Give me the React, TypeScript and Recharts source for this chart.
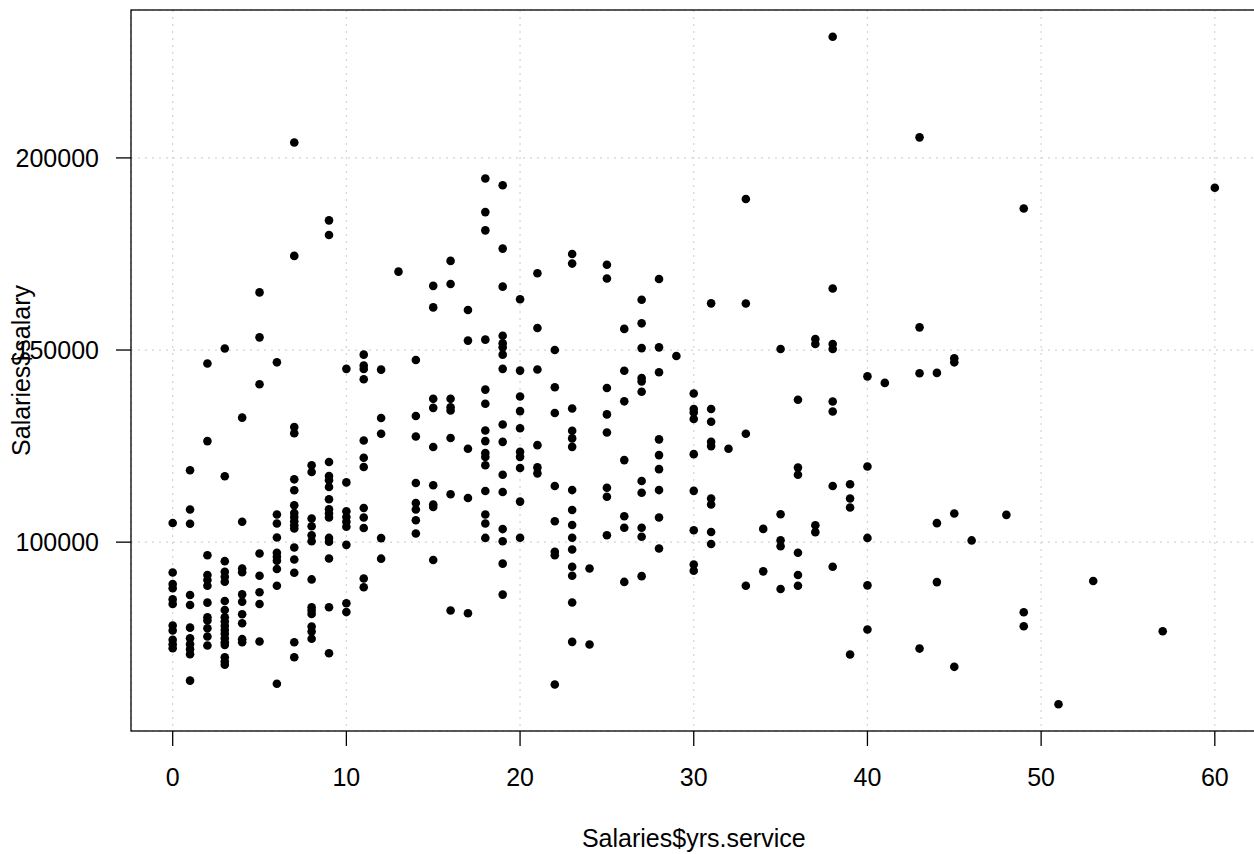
import React from 'react';
import { ScatterChart, Scatter, XAxis, YAxis, CartesianGrid } from 'recharts';

// Salaries by years of service: [yrs.service, salaries[]]
const service0to9: Array<[number, number[]]> = [
  [0, [105000, 92100, 89100, 88000, 85100, 83900, 78300, 77000, 74600, 73400, 72400]],
  [1, [118700, 108500, 104800, 86250, 83650, 77750, 75000, 73450, 72150, 70850, 63950]],
  [2, [146500, 126300, 96600, 91450, 90150, 88650, 84250, 80450, 79600, 77600, 75450, 73100]],
  [3, [150400, 117150, 95050, 92300, 91000, 89700, 84700, 82350, 80450, 79350, 78200, 77150, 76150, 75000, 73950, 73250, 70050, 68950, 68100]],
  [4, [132400, 105300, 93150, 92150, 86400, 84500, 81250, 78900, 74750, 73950]],
  [5, [165000, 153300, 141100, 97050, 91250, 86950, 83900, 74150]],
  [6, [146800, 107200, 104850, 101200, 97250, 96200, 95150, 93000, 88650, 63150]],
  [7, [204000, 174500, 129950, 128350, 116350, 113500, 109600, 107600, 106550, 105450, 104400, 103550, 98600, 95500, 92050, 73950, 70050]],
  [8, [120000, 118250, 106150, 104150, 101800, 100250, 90300, 83050, 82200, 81300, 78050, 76750, 74850]],
  [9, [183750, 179950, 120850, 117200, 116100, 114350, 111150, 108550, 107450, 106400, 101100, 100100, 95750, 83050, 71100]],
];

const service10to19: Array<[number, number[]]> = [
  [10, [145100, 115550, 108050, 106550, 105300, 104000, 99300, 84100, 81800]],
  [11, [148800, 145950, 145050, 142400, 126450, 121950, 119550, 108900, 106400, 103700, 90550, 88250]],
  [12, [144900, 132300, 128200, 101050, 95700]],
  [13, [170400]],
  [14, [147400, 132850, 127500, 115400, 110200, 108500, 105700, 102250]],
  [15, [166700, 161100, 137300, 134950, 124750, 114800, 109800, 109150, 95350]],
  [16, [173200, 167200, 137300, 135100, 134250, 127100, 112450, 82200]],
  [17, [160400, 152450, 124300, 111500, 81500]],
  [18, [194650, 185900, 181150, 152700, 139700, 136000, 129050, 126300, 123200, 122150, 120000, 113300, 107200, 104850, 101100]],
  [19, [192900, 176400, 166500, 153700, 151750, 150700, 148800, 145100, 130600, 126100, 117550, 113050, 103400, 100250, 94400, 86350]],
];

const service20to29: Array<[number, number[]]> = [
  [20, [163200, 144650, 137900, 134100, 129650, 123500, 122200, 119300, 110550, 101150]],
  [21, [170000, 155750, 144950, 125250, 119450, 117900]],
  [22, [150000, 140300, 133600, 114600, 105450, 97500, 96600, 62950]],
  [23, [175000, 172500, 134800, 129000, 127000, 124800, 113550, 108350, 104450, 101150, 98100, 93600, 91250, 84300, 74050]],
  [24, [93150, 73350]],
  [25, [172200, 168600, 140100, 133250, 128550, 114150, 111800, 101800]],
  [26, [155500, 144600, 136650, 121350, 106750, 103750, 89650]],
  [27, [163100, 156950, 150500, 142700, 141850, 139150, 115900, 112850, 103750, 101400, 91150]],
  [28, [168500, 150700, 144200, 126750, 122650, 119000, 113550, 106400, 98350]],
  [29, [148450]],
];

const service30plus: Array<[number, number[]]> = [
  [30, [138700, 134650, 133750, 132050, 122900, 113350, 103100, 94200, 92550]],
  [31, [162150, 134650, 131350, 126100, 125000, 111350, 109800, 102650, 99500]],
  [32, [124300]],
  [33, [189300, 162100, 128200, 88650]],
  [34, [103450, 92400]],
  [35, [150250, 107250, 100500, 98950, 87800]],
  [36, [137050, 119400, 117550, 97250, 91450, 88650]],
  [37, [152850, 151550, 104400, 102600]],
  [38, [231545, 166000, 151550, 150250, 136600, 134000, 114600, 93600]],
  [39, [115050, 111350, 109000, 70750]],
  [40, [143150, 119700, 101100, 88750, 77250]],
  [41, [141450]],
  [43, [205350, 155900, 143950, 72300]],
  [44, [144050, 104950, 89600]],
  [45, [147850, 146800, 107450, 67550]],
  [46, [100450]],
  [48, [107100]],
  [49, [186850, 81750, 78100]],
  [51, [57800]],
  [53, [89900]],
  [57, [76800]],
  [60, [192250]],
];

const xTicks = [0, 10, 20, 30, 40, 50, 60];
const yTicks = [100000, 150000, 200000];
const xDomain: [number, number] = [-2.4, 62.4];
const yDomain: [number, number] = [50850, 238495];
const xTitle = 'Salaries$yrs.service';
const yTitle = 'Salaries$salary';

const points = [...service0to9, ...service10to19, ...service20to29, ...service30plus].flatMap(
  ([yrs, sals]) => sals.map((s) => ({ x: yrs, y: s }))
);

const FONT = '"Liberation Sans", Arial, Helvetica, sans-serif';

const Dot = (props: any) => {
  const { cx, cy } = props;
  if (cx == null || cy == null) return null;
  return <circle cx={cx} cy={cy} r={4.3} fill="#000" />;
};

export default function App() {
  const W = 1262;
  const H = 854;
  const left = 131;
  const top = 10;
  const right = 5.5;
  const bottom = 123;
  const yMid = (top + H - bottom) / 2;
  return (
    <div style={{ position: 'absolute', left: 0, top: 0, width: 1254, height: 854, overflow: 'hidden', background: '#fff' }}>
      <ScatterChart width={W} height={H} margin={{ top, right, bottom: 0, left: 0 }}>
        <CartesianGrid stroke="#d3d3d3" strokeWidth={1.2} strokeDasharray="2 5" />
        <XAxis
          type="number"
          dataKey="x"
          domain={xDomain}
          ticks={xTicks}
          allowDataOverflow
          height={bottom}
          axisLine={false}
          tickSize={15}
          tickMargin={22}
          tickLine={{ stroke: '#000', strokeWidth: 1.3 }}
          tick={{ fill: '#000', fontSize: 25, fontFamily: FONT }}
          interval={0}
        />
        <YAxis
          type="number"
          dataKey="y"
          domain={yDomain}
          ticks={yTicks}
          allowDataOverflow
          width={left}
          axisLine={false}
          tickSize={15}
          tickMargin={17}
          tickLine={{ stroke: '#000', strokeWidth: 1.3 }}
          tick={{ fill: '#000', fontSize: 25, fontFamily: FONT }}
          interval={0}
        />
        <Scatter data={points} shape={Dot} isAnimationActive={false} />
      </ScatterChart>
      <svg width={W} height={H} style={{ position: 'absolute', left: 0, top: 0, pointerEvents: 'none' }}>
        <rect x={left} y={top} width={W - right - left} height={H - bottom - top} fill="none" stroke="#000" strokeWidth={1.3} />
        <text x={(left + W - right) / 2} y={847} textAnchor="middle" fontSize={25} fontFamily={FONT} fill="#000">
          {xTitle}
        </text>
        <text
          x={30}
          y={yMid}
          textAnchor="middle"
          fontSize={25}
          fontFamily={FONT}
          fill="#000"
          transform={`rotate(-90 30 ${yMid})`}
        >
          {yTitle}
        </text>
      </svg>
    </div>
  );
}
